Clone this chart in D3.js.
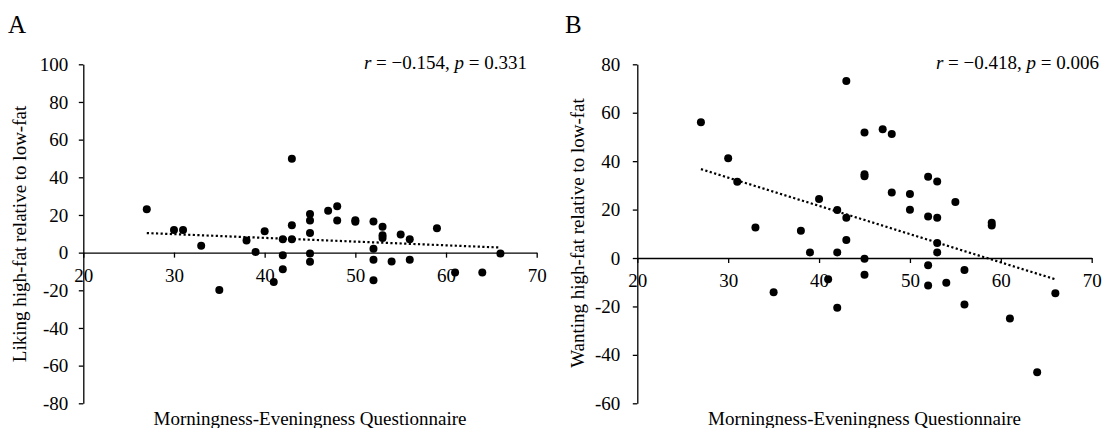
<!DOCTYPE html>
<html>
<head>
<meta charset="utf-8">
<script src="https://cdn.jsdelivr.net/npm/d3@7"></script>
<style>
  html, body { margin: 0; padding: 0; background: #fff; }
  svg { display: block; }
  svg text { font-family: "Liberation Serif", "Times New Roman", serif !important; fill: #000; }
</style>
</head>
<body>
<svg id="chart" width="1102" height="428"></svg>
<script>
// ---------- Data ----------
const xTicks = [20, 30, 40, 50, 60, 70];
const yTicksA = [100, 80, 60, 40, 20, 0, -20, -40, -60, -80];
const yTicksB = [80, 60, 40, 20, 0, -20, -40, -60];

// Panel A: MEQ vs liking
const meqA = [27, 30, 31, 33, 35, 38, 39, 40, 41, 42, 42, 42, 43, 43, 43,
              45, 45, 45, 45, 45, 47, 48, 48, 50, 50, 52, 52, 52, 52,
              53, 53, 53, 54, 55, 56, 56, 59, 61, 64, 66];
const likingA = [23.0, 12.0, 12.0, 3.7, -19.8, 6.4, 0.4, 11.3, -15.6, 7.1, -1.4, -8.8, 49.9, 14.5, 7.1,
                 20.5, 17.0, 10.4, -0.5, -4.8, 22.2, 24.6, 17.0, 17.2, 16.4, 16.5, 2.1, -3.8, -14.7,
                 13.8, 9.2, 7.8, -4.7, 9.6, 7.1, -3.8, 12.9, -10.6, -10.6, -0.5];

// Panel B: MEQ vs wanting
const meqB = [27, 30, 31, 33, 35, 38, 39, 40, 41, 42, 42, 42, 43, 43, 43,
              45, 45, 45, 45, 45, 47, 48, 48, 50, 50, 52, 52, 52, 52,
              53, 53, 53, 53, 54, 55, 56, 56, 59, 59, 61, 64, 66];
const wantingB = [56.1, 41.2, 31.5, 12.6, -14.1, 11.3, 2.3, 24.4, -8.8, 19.8, 2.3, -20.5, 73.1, 16.6, 7.4,
                  51.8, 34.6, 33.8, -0.3, -6.9, 53.2, 51.2, 27.1, 26.4, 19.9, 33.6, 17.1, -3.0, -11.4,
                  31.6, 16.6, 6.2, 2.3, -10.2, 23.1, -4.9, -19.2, 14.6, 13.4, -25.0, -47.2, -14.6];

// Trendline endpoints
const trendA = [[27, 10.4], [66, 2.7]];
const trendB = [[27, 36.7], [66, -8.8]];

const annotA = ["−0.154", "0.331"];
const annotB = ["−0.418", "0.006"];

// ---------- Drawing ----------
const svg = d3.select("#chart");
const FS = 19;
const SERIF = '"Liberation Serif", "Times New Roman", serif';

function panel(cfg) {
  const x = d3.scaleLinear().domain([20, 70]).range([cfg.x0, cfg.x1]);
  const y = d3.scaleLinear().domain(cfg.yDomain).range([cfg.yTop, cfg.yBottom]);
  const g = svg.append("g");
  const fmt = d => String(d);

  // y axis
  const ya = g.append("g")
    .attr("transform", `translate(${cfg.x0},0)`)
    .call(d3.axisLeft(y).tickValues(cfg.yTicks).tickSize(4.5).tickSizeOuter(0)
      .tickPadding(cfg.yPad).tickFormat(fmt));
  ya.attr("font-family", null).attr("font-size", null);
  ya.select(".domain").attr("stroke", "#000").attr("stroke-width", 1.3);
  ya.selectAll(".tick line").attr("stroke", "#000").attr("stroke-width", 1.3);
  ya.selectAll(".tick text").style("font-size", FS + "px")
    .style("font-family", SERIF).attr("fill", "#000");

  // x axis at y = 0
  const xa = g.append("g")
    .attr("transform", `translate(0,${y(0)})`)
    .call(d3.axisBottom(x).tickValues(xTicks).tickSize(5).tickSizeOuter(0).tickFormat(fmt));
  xa.attr("font-family", null).attr("font-size", null);
  xa.select(".domain").attr("stroke", "#000").attr("stroke-width", 1.3);
  xa.selectAll(".tick line").attr("stroke", "#000").attr("stroke-width", 1.3);
  xa.selectAll(".tick text").style("font-size", FS + "px")
    .style("font-family", SERIF).attr("fill", "#000")
    .attr("dy", null).attr("y", cfg.xLabBase);

  // trend line (dotted)
  g.append("path")
    .datum(cfg.trend)
    .attr("d", d3.line().x(d => x(d[0])).y(d => y(d[1])))
    .attr("fill", "none").attr("stroke", "#000")
    .attr("stroke-width", 2.2).attr("stroke-dasharray", "2.2 2.4");

  // points
  g.append("g").selectAll("circle")
    .data(cfg.xs.map((v, i) => [v, cfg.ys[i]]))
    .join("circle")
    .attr("cx", d => x(d[0])).attr("cy", d => y(d[1]))
    .attr("r", 4).attr("fill", "#000");

  // axis titles
  g.append("text")
    .attr("x", (cfg.x0 + cfg.x1) / 2).attr("y", 425)
    .attr("text-anchor", "middle").style("font-size", FS + "px")
    .text("Morningness-Eveningness Questionnaire");
  g.append("text")
    .attr("transform", `translate(${cfg.yTitleX},${cfg.yTitleY}) rotate(-90)`)
    .attr("text-anchor", "middle").style("font-size", FS + "px")
    .text(cfg.yTitle);

  // panel letter
  g.append("text").attr("x", cfg.letterX).attr("y", 33)
    .style("font-size", "25px").text(cfg.letter);

  // annotation
  const t = g.append("text").attr("x", cfg.annotRight).attr("y", 68.5)
    .attr("text-anchor", "end").style("font-size", FS + "px");
  t.append("tspan").attr("font-style", "italic").text("r");
  t.append("tspan").text(" = " + cfg.annot[0] + ", ");
  t.append("tspan").attr("font-style", "italic").text("p");
  t.append("tspan").text(" = " + cfg.annot[1]);
}

panel({
  x0: 83.3, x1: 536.7, yDomain: [100, -80], yTop: 64.3, yBottom: 403.3,
  yTicks: yTicksA, yPad: 10.5, xLabBase: 29,
  xs: meqA, ys: likingA, trend: trendA,
  yTitle: "Liking high-fat relative to low-fat", yTitleX: 25.5, yTitleY: 234,
  letter: "A", letterX: 8, annot: annotA, annotRight: 527
});

panel({
  x0: 637.3, x1: 1091.7, yDomain: [80, -60], yTop: 64.3, yBottom: 403.3,
  yTicks: yTicksB, yPad: 12.5, xLabBase: 28.7,
  xs: meqB, ys: wantingB, trend: trendB,
  yTitle: "Wanting high-fat relative to low-fat", yTitleX: 583.5, yTitleY: 233,
  letter: "B", letterX: 565, annot: annotB, annotRight: 1099
});
</script>
</body>
</html>
